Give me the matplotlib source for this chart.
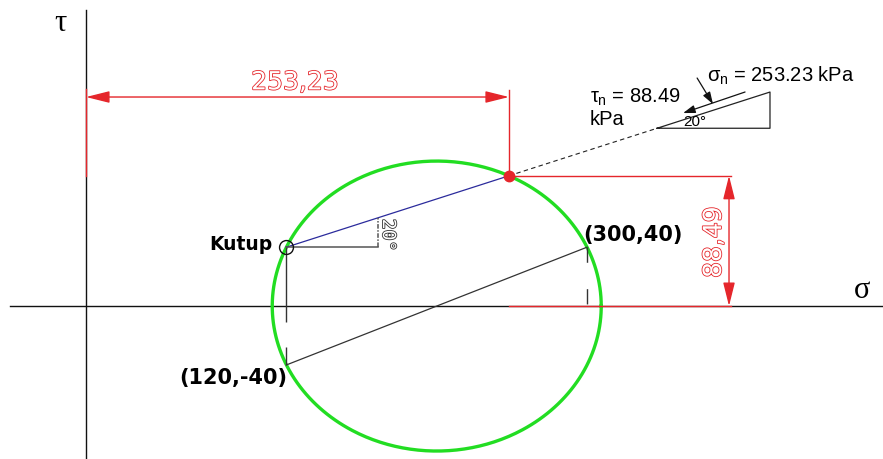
import numpy as np
import matplotlib
matplotlib.use("Agg")
import matplotlib.pyplot as plt
import matplotlib.patheffects as pe

# =========================
# 1. Data (Mohr circle)
# =========================
point_a = (300, 40)          # (sigma, tau) on plane A
point_b = (120, -40)         # (sigma, tau) on plane B
pole = (120, 40)             # Kutup
plane_angle = 20             # degrees
sigma_n = 253.23
tau_n = 88.49

center = (point_a[0] + point_b[0]) / 2
radius = np.hypot(point_a[0] - center, point_a[1])

# inset sketch (plane with stresses) in sigma/tau units
ext_len = 94.4               # dashed extension of the plane line
tri_base = 67.6
tau_arrow = [(357.5, 131.1), (394.6, 145.4)]
sig_arrow = [(365.9, 154.9), (375.4, 137.2)]

red = "#e5262b"
green = "#22dd22"
navy = "#2b2b9c"
dark = "#333333"

plt.rcParams["mathtext.fontset"] = "custom"
plt.rcParams["mathtext.rm"] = "Liberation Sans"
plt.rcParams["mathtext.it"] = "Liberation Sans"

# =========================
# 2. Figure
# =========================
fig = plt.figure(figsize=(8.83, 4.59), dpi=100)
ax = fig.add_axes([0, 0, 1, 1])
ax.set_xlim(-51.5, 477.2)
ax.set_ylim(-103.9, 207.9)
ax.axis("off")

# axes
ax.plot([0, 0], [-110, 201], color="#111111", lw=1)
ax.plot([-45.5, 480], [0, 0], color="#111111", lw=1)
ax.text(-15.6, 186.8, "τ", family="Liberation Serif", fontsize=22, ha="center", va="baseline")
ax.text(464.7, 5.4, "σ", family="Liberation Serif", fontsize=22, ha="center", va="baseline")

# circle
th = np.linspace(0, 2 * np.pi, 400)
ax.plot(center + radius * np.cos(th), radius * np.sin(th), color=green, lw=2.4)

# diameter and construction lines
ax.plot([point_b[0], point_a[0]], [point_b[1], point_a[1]], color=dark, lw=0.9)
ax.plot([pole[0], pole[0]], [pole[1], point_b[1]], color=dark, lw=1,
        linestyle=(0, (54, 18)))
ax.plot([point_a[0], point_a[0]], [point_a[1], 0], color=dark, lw=1,
        linestyle=(0, (11, 19)))

# plane line from pole
ax.plot([pole[0], sigma_n], [pole[1], tau_n], color=navy, lw=0.9)
rad = np.radians(plane_angle)
end = (sigma_n + ext_len * np.cos(rad), tau_n + ext_len * np.sin(rad))
ax.plot([sigma_n, end[0]], [tau_n, end[1]], color="#222222", lw=0.8, linestyle=(0, (4, 3)))

# angle mark at pole
x_mark = 175
ax.plot([pole[0], x_mark], [pole[1], pole[1]], color="#555555", lw=1.1)
ax.plot([x_mark, x_mark], [pole[1], pole[1] + (x_mark - pole[0]) * np.tan(rad)],
        color="#555555", lw=1.1, linestyle=(0, (3, 1, 1, 1)))
ax.text(180.8, 48.2, "20°", fontsize=13, rotation=270, ha="center", va="center",
        color="white", family="DejaVu Sans Mono",
        path_effects=[pe.withStroke(linewidth=1.2, foreground="#333333")])

# points
ax.plot(*pole, marker="o", ms=10, mfc="none", mec="#111111", mew=1)
ax.plot(sigma_n, tau_n, marker="o", ms=7.5, color=red)

# labels
ax.text(111.4, 42.1, "Kutup", fontsize=13.5, fontweight="bold", ha="right", va="center")
ax.text(297.6, 48.2, "(300,40)", fontsize=15, fontweight="bold", ha="left", va="center")
ax.text(120.4, -48.9, "(120,-40)", fontsize=15, fontweight="bold", ha="right", va="center")

# =========================
# 3. Red dimensions
# =========================
dim_y = 142
arrow_red = dict(arrowstyle="<|-|>,head_length=0.8,head_width=0.2",
                 mutation_scale=18, lw=1, color=red, shrinkA=0, shrinkB=0)
ax.plot([0, 0], [tau_n, 147.5], color=red, lw=1)
ax.plot([sigma_n, sigma_n], [tau_n, 146.7], color=red, lw=1)
ax.annotate("", xy=(0, dim_y), xytext=(sigma_n, dim_y), arrowprops=arrow_red)
ax.text(sigma_n / 2 - 1.5, dim_y + 1.8, "253,23", fontsize=18, ha="center", va="bottom",
        color="white", path_effects=[pe.withStroke(linewidth=1.2, foreground=red)])

dim_x = 385
ax.plot([sigma_n, 386], [tau_n, tau_n], color=red, lw=1)
ax.plot([sigma_n, 386], [0, 0], color=red, lw=1)
ax.annotate("", xy=(dim_x, tau_n), xytext=(dim_x, 0), arrowprops=arrow_red)
ax.text(376, 43.5, "88,49", fontsize=18, rotation=90, ha="center", va="center",
        color="white", path_effects=[pe.withStroke(linewidth=1.2, foreground=red)])

# =========================
# 4. Inset: plane element
# =========================
bl = (end[0], end[1])
br = (end[0] + tri_base, end[1])
tr = (br[0], end[1] + tri_base * np.tan(rad))
ax.plot([bl[0], br[0], tr[0], bl[0]], [bl[1], br[1], tr[1], bl[1]], color="#222222", lw=0.9)
ax.annotate("", xy=tau_arrow[0], xytext=tau_arrow[1],
            arrowprops=dict(arrowstyle="-|>,head_length=0.6,head_width=0.2",
                            mutation_scale=12, lw=0.9, color="#111111", shrinkA=0, shrinkB=0))
ax.annotate("", xy=sig_arrow[1], xytext=sig_arrow[0],
            arrowprops=dict(arrowstyle="-|>,head_length=0.6,head_width=0.2",
                            mutation_scale=12, lw=0.9, color="#111111", shrinkA=0, shrinkB=0))
ax.text(371.9, 152.2, r"$\sigma_\mathrm{n}$ = 253.23 kPa", family="Liberation Sans",
        fontsize=14.5, ha="left", va="baseline")
ax.text(301.8, 137.9, r"$\tau_\mathrm{n}$ = 88.49", family="Liberation Sans",
        fontsize=14.5, ha="left", va="baseline")
ax.text(301.8, 123.0, "kPa", family="Liberation Sans", fontsize=14.5, ha="left", va="baseline")
ax.text(357.5, 122.0, "20°", family="Liberation Sans", fontsize=11, ha="left", va="baseline")

fig.savefig("out.png", dpi=100)
